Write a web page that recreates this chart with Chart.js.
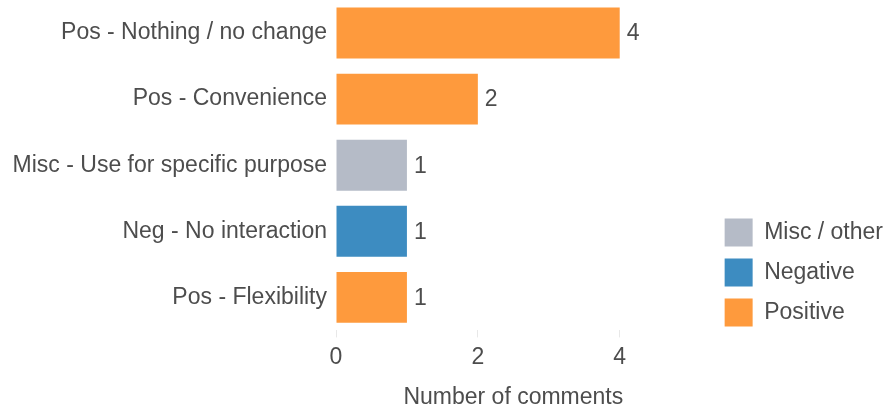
<!DOCTYPE html>
<html>
<head>
<meta charset="utf-8">
<script src="https://cdn.jsdelivr.net/npm/chart.js@4/dist/chart.umd.min.js"></script>
<style>
  html, body { margin: 0; padding: 0; background: #fff; }
</style>
</head>
<body>
<canvas id="myCanvas" width="887" height="409"></canvas>
<script>
const CHART = document.getElementById('myCanvas').getContext('2d');

// comment categories, top to bottom
var categories = [
    'Pos - Nothing / no change',
    'Pos - Convenience',
    'Misc - Use for specific purpose',
    'Neg - No interaction',
    'Pos - Flexibility'
];
var counts = [4, 2, 1, 1, 1];
var sentiment = ['Positive', 'Positive', 'Misc / other', 'Negative', 'Positive'];

var groups = ['Misc / other', 'Negative', 'Positive'];
var groupColors = ['#b5bbc7', '#3d8cc1', '#fe9a3d'];
var xTicks = [0, 2, 4];

var textColor = '#4d4d4d';
var font = { family: '"Liberation Sans", Arial, sans-serif', size: 23 };
var titleFont = { family: font.family, size: 23, lineHeight: 1 };

// one dataset per sentiment group so the legend comes for free
var datasets = groups.map(function (g, k) {
    return {
        label: g,
        data: counts.map(function (v, i) { return sentiment[i] === g ? v : null; }),
        backgroundColor: groupColors[k],
        barPercentage: 0.77,
        categoryPercentage: 1.0
    };
});

// writes the count just past the end of each bar
var valueLabels = {
    id: 'valueLabels',
    afterDatasetsDraw: function (chart) {
        var ctx = chart.ctx;
        ctx.save();
        ctx.font = font.size + 'px ' + font.family;
        ctx.fillStyle = textColor;
        ctx.textAlign = 'left';
        ctx.textBaseline = 'middle';
        chart.data.datasets.forEach(function (ds, d) {
            chart.getDatasetMeta(d).data.forEach(function (bar, i) {
                if (ds.data[i] == null) return;
                ctx.fillText(ds.data[i], bar.x + 7, bar.y + 1);
            });
        });
        ctx.restore();
    }
};

// nudge the legend down and right, next to the lower bars
var legendShift = {
    id: 'legendShift',
    afterLayout: function (chart) {
        var l = chart.legend;
        l.left += 22; l.right += 22;
        l.top += 68; l.bottom += 68;
    }
};

var configure = {
    type: 'bar',
    data: { labels: categories, datasets: datasets },
    plugins: [valueLabels, legendShift],
    options: {
        indexAxis: 'y',
        responsive: false,
        animation: false,
        layout: { padding: { left: 8, top: 0, right: 16, bottom: 0 } },
        scales: {
            x: {
                stacked: true,
                min: 0,
                max: 5,
                afterBuildTicks: function (axis) {
                    axis.ticks = xTicks.map(function (v) { return { value: v }; });
                },
                grid: { drawOnChartArea: false, drawTicks: true, tickLength: 7, color: '#e8e8e8' },
                border: { display: false },
                ticks: { color: textColor, font: font, padding: 6 },
                title: {
                    display: true,
                    text: 'Number of comments',
                    color: textColor,
                    font: titleFont,
                    padding: { top: 9, bottom: 0 }
                }
            },
            y: {
                stacked: true,
                // room for the long category names, no overhang padding
                afterFit: function (axis) {
                    axis.width = 328;
                    axis.paddingTop = 0;
                    axis.paddingBottom = 0;
                },
                grid: { display: false, drawTicks: false },
                border: { display: false },
                ticks: { color: textColor, font: font, padding: 9 }
            }
        },
        plugins: {
            legend: {
                position: 'right',
                labels: {
                    color: textColor,
                    font: font,
                    boxWidth: 28,
                    boxHeight: 28,
                    padding: 12
                }
            },
            tooltip: { enabled: false }
        }
    }
};

window.barChart = new Chart(CHART, configure);
</script>
</body>
</html>
